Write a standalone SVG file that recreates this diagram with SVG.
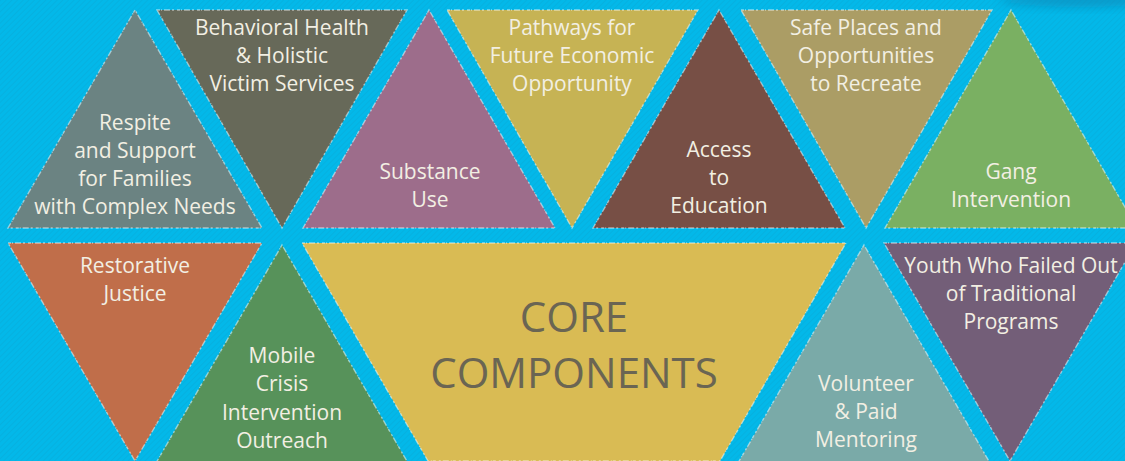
<svg xmlns="http://www.w3.org/2000/svg" width="1125" height="461" viewBox="0 0 1125 461">
<defs>
<pattern id="stripes" width="4" height="4" patternUnits="userSpaceOnUse" patternTransform="rotate(-45)">
<rect width="4" height="4" fill="#03b8e9"/>
<rect width="4" height="1" fill="#0aa9d8" opacity="0.5"/>
</pattern>
<filter id="blur" x="-50%" y="-50%" width="200%" height="200%"><feGaussianBlur stdDeviation="5"/></filter>
<style>
.tri{stroke:#ffffff;stroke-opacity:.5;stroke-width:1.4;stroke-dasharray:3 1 1 2 6 2 2 3;stroke-linejoin:miter}
.lbl{font-family:"Open Sans","Noto Sans","DejaVu Sans",sans-serif;font-size:21px;fill:#f2efe3;text-anchor:middle}
.core{font-family:"Open Sans","Noto Sans","DejaVu Sans",sans-serif;font-size:42px;fill:#6a6553;text-anchor:middle}
</style>
</defs>
<rect width="1125" height="461" fill="url(#stripes)"/>
<ellipse cx="1080" cy="0" rx="80" ry="7" fill="#0a86b5" opacity="0.6" filter="url(#blur)"/>

<g id="connectors"></g>

<g id="respite">
<polygon class="tri" points="135,10 8,228 262,228" fill="#6b8382"/>
<text class="lbl" x="135" y="130">Respite</text>
<text class="lbl" x="135" y="158">and Support</text>
<text class="lbl" x="135" y="186">for Families</text>
<text class="lbl" x="135" y="214">with Complex Needs</text>
</g>
<g id="behavioral">
<polygon class="tri" points="157,10 407,10 282,228" fill="#676959"/>
<text class="lbl" x="282" y="35">Behavioral Health</text>
<text class="lbl" x="282" y="63">&amp; Holistic</text>
<text class="lbl" x="282" y="91">Victim Services</text>
</g>
<g id="substance">
<polygon class="tri" points="429,10 303,228 555,228" fill="#9d6d8b"/>
<text class="lbl" x="430" y="179">Substance</text>
<text class="lbl" x="430" y="207">Use</text>
</g>
<g id="pathways">
<polygon class="tri" points="447,10 698,10 572,228" fill="#c6b354"/>
<text class="lbl" x="572" y="35">Pathways for</text>
<text class="lbl" x="572" y="63">Future Economic</text>
<text class="lbl" x="572" y="91">Opportunity</text>
</g>
<g id="access">
<polygon class="tri" points="719,10 593,228 845,228" fill="#774f45"/>
<text class="lbl" x="719" y="157">Access</text>
<text class="lbl" x="719" y="185">to</text>
<text class="lbl" x="719" y="213">Education</text>
</g>
<g id="safe">
<polygon class="tri" points="741,10 992,10 866,228" fill="#ab9d65"/>
<text class="lbl" x="866" y="35">Safe Places and</text>
<text class="lbl" x="866" y="63">Opportunities</text>
<text class="lbl" x="866" y="91">to Recreate</text>
</g>
<g id="gang">
<polygon class="tri" points="1011,10 885,228 1137,228" fill="#7ab062"/>
<text class="lbl" x="1011" y="179">Gang</text>
<text class="lbl" x="1011" y="207">Intervention</text>
</g>

<g id="restorative">
<polygon class="tri" points="8,243 262,243 135,461" fill="#c06e4a"/>
<text class="lbl" x="135" y="273">Restorative</text>
<text class="lbl" x="135" y="301">Justice</text>
</g>
<g id="mobile">
<polygon class="tri" points="282,245 156,463 408,463" fill="#57925a"/>
<text class="lbl" x="282" y="363">Mobile</text>
<text class="lbl" x="282" y="391">Crisis</text>
<text class="lbl" x="282" y="420">Intervention</text>
<text class="lbl" x="282" y="448">Outreach</text>
</g>
<g id="core">
<polygon class="tri" points="302,243 846,243 720,461 428,461" fill="#d9bb54"/>
<text class="core" x="574" y="332">CORE</text>
<text class="core" x="574" y="388">COMPONENTS</text>
</g>
<g id="volunteer">
<polygon class="tri" points="864,245 738,463 990,463" fill="#7aaaa8"/>
<text class="lbl" x="866" y="391">Volunteer</text>
<text class="lbl" x="866" y="419">&amp; Paid</text>
<text class="lbl" x="866" y="447">Mentoring</text>
</g>
<g id="youth">
<polygon class="tri" points="884,243 1136,243 1010,461" fill="#735e78"/>
<text class="lbl" x="1011" y="273">Youth Who Failed Out</text>
<text class="lbl" x="1011" y="301">of Traditional</text>
<text class="lbl" x="1011" y="329">Programs</text>
</g>
</svg>
